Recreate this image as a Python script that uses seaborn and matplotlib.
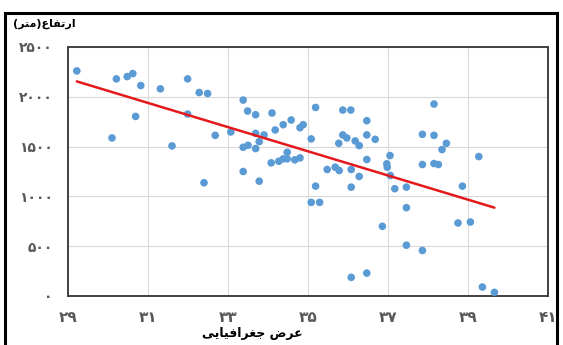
import numpy as np
import pandas as pd
import seaborn as sns
import matplotlib.pyplot as plt
from matplotlib.patches import Rectangle

# عرض جغرافیایی (درجه) و ارتفاع (متر) ایستگاه‌ها
latitude = [29.22, 30.21, 30.48, 30.62, 30.82, 31.31, 31.99, 32.28, 32.49, 30.69,
            31.99, 30.10, 32.68, 31.60, 33.07, 33.38, 33.49, 33.69, 34.10, 33.69,
            33.90, 33.78, 33.38, 33.50, 33.69, 34.18, 34.38, 34.58, 34.80, 34.88,
            35.19, 35.08, 35.87, 36.07, 36.47, 35.87, 35.97, 36.18, 36.28, 35.77,
            36.47, 36.68, 36.47, 34.08, 34.27, 34.38, 34.48, 34.48, 34.67, 34.80,
            33.38, 35.48, 35.68, 35.78, 36.08, 36.97, 33.78, 32.40, 35.19, 36.28,
            36.08, 35.08, 35.29, 36.86, 36.08, 36.47, 38.15, 37.86, 38.15, 38.46,
            38.35, 39.27, 37.05, 36.98, 37.86, 38.15, 38.26, 37.06, 37.17, 37.46,
            37.46, 37.46, 37.86, 38.86, 38.75, 39.06, 39.36, 39.66]
elevation = [2260, 2180, 2203, 2233, 2113, 2080, 2180, 2043, 2033, 1803,
             1827, 1587, 1613, 1507, 1647, 1967, 1857, 1820, 1837, 1633,
             1617, 1550, 1493, 1513, 1480, 1667, 1720, 1767, 1690, 1720,
             1893, 1577, 1867, 1867, 1760, 1617, 1587, 1557, 1510, 1533,
             1617, 1573, 1370, 1337, 1353, 1377, 1443, 1377, 1367, 1387,
             1250, 1270, 1293, 1260, 1270, 1327, 1153, 1137, 1103, 1200,
             1093, 940, 940, 700, 187, 230, 1927, 1623, 1613, 1533,
             1470, 1400, 1410, 1293, 1320, 1330, 1320, 1210, 1077, 1093,
             887, 510, 457, 1103, 733, 743, 90, 37]

x_ticks = [29, 31, 33, 35, 37, 39, 41]
x_tick_labels = ['۲۹', '۳۱', '۳۳', '۳۵', '۳۷', '۳۹', '۴۱']
y_ticks = [0, 500, 1000, 1500, 2000, 2500]
y_tick_labels = ['۰', '۵۰۰', '۱۰۰۰', '۱۵۰۰', '۲۰۰۰', '۲۵۰۰']

# متن فارسی به صورت شکل‌های نمایشی و به ترتیب دیداری (matplotlib راست‌به‌چپ ندارد)
x_title = '\uFEF0\uFEF3\uFE8E\uFEF4\uFED3\uFE8D\uFEAE\uFED0\uFE9F \uFEBD\uFEAE\uFECB'   # عرض جغرافیایی
y_title = '(\uFEAE\uFE98\uFEE3)\uFEC9\uFE8E\uFED4\uFE97\uFEAD\uFE8D'                  # ارتفاع(متر)

df = pd.DataFrame({'lat': latitude, 'elev': elevation})

sns.set_theme(style='white')
plt.rcParams['font.family'] = ['DejaVu Sans']

W, H = 563, 345
fig = plt.figure(figsize=(W / 100, H / 100), dpi=100)
ax = fig.add_axes([68 / W, (H - 296) / H, 480 / W, 249 / H])

ax.grid(True, color='#d9d9d9', linewidth=0.8)
ax.set_axisbelow(True)

sns.scatterplot(x='lat', y='elev', data=df, ax=ax, color='#5B9BD5',
                s=30, edgecolor='none', zorder=3)
sns.regplot(x='lat', y='elev', data=df, ax=ax, scatter=False, ci=None,
            truncate=True, line_kws=dict(color='#E3191C', linewidth=1.8, zorder=4))

ax.set_xlim(29, 41)
ax.set_ylim(0, 2500)
ax.set_xticks(x_ticks)
ax.set_xticklabels(x_tick_labels, fontsize=11, fontweight='bold', color='#595959')
ax.set_yticks(y_ticks)
ax.set_yticklabels(y_tick_labels, fontsize=10, fontweight='bold', color='#595959')
ax.tick_params(axis='x', length=0, pad=10)
ax.tick_params(axis='y', length=0, pad=11)
ax.set_xlabel('')
ax.set_ylabel('')

for sp in ax.spines.values():
    sp.set_color('#404040')
    sp.set_linewidth(1.4)

fig.text(252 / W, (H - 334) / H, x_title, ha='center', va='center',
         fontsize=9, fontweight='bold', color='black')
fig.text(13 / W, (H - 24) / H, y_title, ha='left', va='center',
         fontsize=8, fontweight='bold', color='black')

# قاب بیرونی نمودار
fig.patches.append(Rectangle((5 / W, -0.1), 552 / W, (H - 13) / H + 0.1,
                             transform=fig.transFigure, fill=False,
                             edgecolor='black', linewidth=2.2))

fig.savefig('out.png', dpi=100)
